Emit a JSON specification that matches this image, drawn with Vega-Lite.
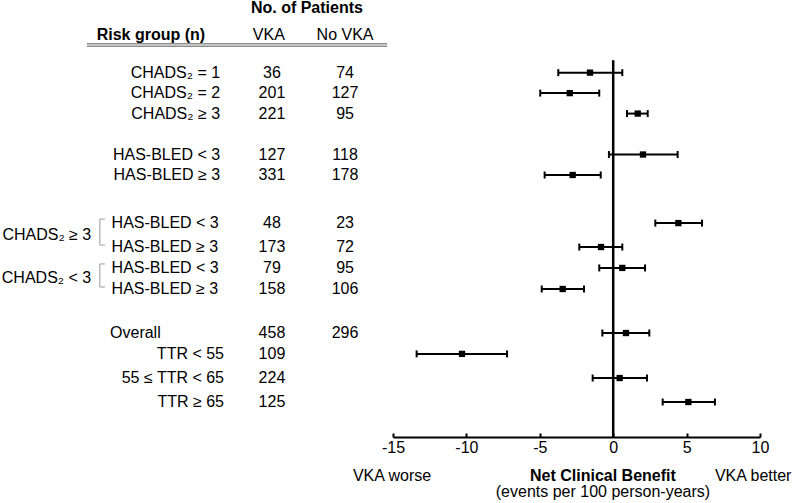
{
  "$schema": "https://vega.github.io/schema/vega-lite/v6.json",
  "background": "white",
  "padding": 0,
  "spacing": 0,
  "bounds": "flush",
  "config": {
    "view": {"stroke": null},
    "font": "Liberation Sans",
    "text": {"fontSize": 16, "color": "black", "baseline": "middle", "font": "Liberation Sans"},
    "concat": {"spacing": 0}
  },
  "datasets": {
    "rows": [
      {"row": 1, "label": "CHADS₂ = 1", "section": "chads", "group": "", "vka": "36", "novka": "74", "est": -1.58, "lo": -3.74, "hi": 0.62},
      {"row": 2, "label": "CHADS₂ = 2", "section": "chads", "group": "", "vka": "201", "novka": "127", "est": -2.96, "lo": -4.97, "hi": -0.95},
      {"row": 3, "label": "CHADS₂ ≥ 3", "section": "chads", "group": "", "vka": "221", "novka": "95", "est": 1.67, "lo": 0.94, "hi": 2.35},
      {"row": 5, "label": "HAS-BLED < 3", "section": "hasbled", "group": "", "vka": "127", "novka": "118", "est": 2.03, "lo": -0.29, "hi": 4.39},
      {"row": 6, "label": "HAS-BLED ≥ 3", "section": "hasbled", "group": "", "vka": "331", "novka": "178", "est": -2.76, "lo": -4.67, "hi": -0.85},
      {"row": 8.35, "label": "HAS-BLED < 3", "section": "combo", "group": "CHADS₂ ≥ 3", "vka": "48", "novka": "23", "est": 4.44, "lo": 2.87, "hi": 6.05},
      {"row": 9.52, "label": "HAS-BLED ≥ 3", "section": "combo", "group": "CHADS₂ ≥ 3", "vka": "173", "novka": "72", "est": -0.83, "lo": -2.31, "hi": 0.62},
      {"row": 10.54, "label": "HAS-BLED < 3", "section": "combo", "group": "CHADS₂ < 3", "vka": "79", "novka": "95", "est": 0.62, "lo": -0.95, "hi": 2.17},
      {"row": 11.57, "label": "HAS-BLED ≥ 3", "section": "combo", "group": "CHADS₂ < 3", "vka": "158", "novka": "106", "est": -3.44, "lo": -4.87, "hi": -1.99},
      {"row": 13.72, "label": "Overall", "section": "overall", "group": "", "vka": "458", "novka": "296", "est": 0.87, "lo": -0.74, "hi": 2.46},
      {"row": 14.74, "label": "TTR < 55", "section": "ttr", "group": "", "vka": "109", "novka": "", "est": -10.3, "lo": -13.39, "hi": -7.23},
      {"row": 15.92, "label": "55 ≤ TTR < 65", "section": "ttr", "group": "", "vka": "224", "novka": "", "est": 0.44, "lo": -1.4, "hi": 2.3},
      {"row": 17.09, "label": "TTR ≥ 65", "section": "ttr", "group": "", "vka": "125", "novka": "", "est": 5.12, "lo": 3.37, "hi": 6.93}
    ]
  },
  "hconcat": [
    {
      "width": 393,
      "height": 436,
      "data": {"name": "rows"},
      "layer": [
        {
          "data": {"values": [{"t": "No. of Patients"}]},
          "mark": {"type": "text", "fontWeight": "bold", "align": "center"},
          "encoding": {
            "x": {"datum": 78.1, "type": "quantitative", "scale": {"domain": [0, 100], "nice": false, "zero": false}, "axis": null},
            "y": {"datum": -2.14, "type": "quantitative", "scale": {"domain": [-2.5, 18.8], "reverse": true, "nice": false, "zero": false}, "axis": null},
            "text": {"field": "t"}
          }
        },
        {
          "data": {"values": [{"t": "Risk group (n)"}]},
          "mark": {"type": "text", "fontWeight": "bold", "align": "center"},
          "encoding": {
            "x": {"datum": 38.4, "type": "quantitative"},
            "y": {"datum": -0.84, "type": "quantitative"},
            "text": {"field": "t"}
          }
        },
        {
          "data": {"values": [{"t": "VKA"}]},
          "mark": {"type": "text", "align": "center"},
          "encoding": {
            "x": {"datum": 68.4, "type": "quantitative"},
            "y": {"datum": -0.84, "type": "quantitative"},
            "text": {"field": "t"}
          }
        },
        {
          "data": {"values": [{"t": "No VKA"}]},
          "mark": {"type": "text", "align": "center"},
          "encoding": {
            "x": {"datum": 87.8, "type": "quantitative"},
            "y": {"datum": -0.84, "type": "quantitative"},
            "text": {"field": "t"}
          }
        },
        {
          "data": {"values": [{}]},
          "mark": {"type": "rule", "color": "#8c8c8c", "strokeWidth": 1.5},
          "encoding": {
            "x": {"datum": 22.1, "type": "quantitative"},
            "x2": {"datum": 98.5},
            "y": {"datum": -0.414, "type": "quantitative"}
          }
        },
        {
          "data": {"values": [{}]},
          "mark": {"type": "rule", "color": "#8c8c8c", "strokeWidth": 1.5},
          "encoding": {
            "x": {"datum": 22.1, "type": "quantitative"},
            "x2": {"datum": 98.5},
            "y": {"datum": -0.292, "type": "quantitative"}
          }
        },
        {
          "transform": [{"filter": "datum.section === 'chads' || datum.section === 'hasbled'"}],
          "mark": {"type": "text", "align": "right"},
          "encoding": {
            "x": {"datum": 56, "type": "quantitative"},
            "y": {"field": "row", "type": "quantitative"},
            "text": {"field": "label"}
          }
        },
        {
          "transform": [{"filter": "datum.section === 'combo'"}],
          "mark": {"type": "text", "align": "left"},
          "encoding": {
            "x": {"datum": 28.4, "type": "quantitative"},
            "y": {"field": "row", "type": "quantitative"},
            "text": {"field": "label"}
          }
        },
        {
          "transform": [{"filter": "datum.section === 'overall'"}],
          "mark": {"type": "text", "align": "left"},
          "encoding": {
            "x": {"datum": 28, "type": "quantitative"},
            "y": {"field": "row", "type": "quantitative"},
            "text": {"field": "label"}
          }
        },
        {
          "transform": [{"filter": "datum.section === 'ttr'"}],
          "mark": {"type": "text", "align": "right"},
          "encoding": {
            "x": {"datum": 57, "type": "quantitative"},
            "y": {"field": "row", "type": "quantitative"},
            "text": {"field": "label"}
          }
        },
        {
          "mark": {"type": "text", "align": "center"},
          "encoding": {
            "x": {"datum": 69.2, "type": "quantitative"},
            "y": {"field": "row", "type": "quantitative"},
            "text": {"field": "vka"}
          }
        },
        {
          "mark": {"type": "text", "align": "center"},
          "encoding": {
            "x": {"datum": 87.8, "type": "quantitative"},
            "y": {"field": "row", "type": "quantitative"},
            "text": {"field": "novka"}
          }
        },
        {
          "transform": [
            {"filter": "datum.section === 'combo'"},
            {"aggregate": [{"op": "mean", "field": "row", "as": "mid"}], "groupby": ["group"]}
          ],
          "mark": {"type": "text", "align": "right"},
          "encoding": {
            "x": {"datum": 23.2, "type": "quantitative"},
            "y": {"field": "mid", "type": "quantitative"},
            "text": {"field": "group"}
          }
        },
        {
          "transform": [
            {"filter": "datum.section === 'combo'"},
            {"aggregate": [{"op": "min", "field": "row", "as": "top"}, {"op": "max", "field": "row", "as": "bot"}], "groupby": ["group"]}
          ],
          "mark": {"type": "rule", "color": "#9a9a9a", "strokeWidth": 1, "yOffset": -4, "y2Offset": -2},
          "encoding": {
            "x": {"datum": 25.4, "type": "quantitative"},
            "y": {"field": "top", "type": "quantitative"},
            "y2": {"field": "bot"}
          }
        },
        {
          "transform": [
            {"filter": "datum.section === 'combo'"},
            {"aggregate": [{"op": "min", "field": "row", "as": "top"}], "groupby": ["group"]}
          ],
          "mark": {"type": "rule", "color": "#9a9a9a", "strokeWidth": 1, "yOffset": -4},
          "encoding": {
            "x": {"datum": 25.4, "type": "quantitative"},
            "x2": {"datum": 26.7},
            "y": {"field": "top", "type": "quantitative"}
          }
        },
        {
          "transform": [
            {"filter": "datum.section === 'combo'"},
            {"aggregate": [{"op": "max", "field": "row", "as": "bot"}], "groupby": ["group"]}
          ],
          "mark": {"type": "rule", "color": "#9a9a9a", "strokeWidth": 1, "yOffset": -2},
          "encoding": {
            "x": {"datum": 25.4, "type": "quantitative"},
            "x2": {"datum": 26.7},
            "y": {"field": "bot", "type": "quantitative"}
          }
        }
      ]
    },
    {
      "width": 367,
      "height": 436,
      "data": {"name": "rows"},
      "layer": [
        {
          "data": {"values": [{}]},
          "mark": {"type": "rule", "color": "black", "strokeWidth": 2.5},
          "encoding": {
            "x": {
              "datum": 0,
              "type": "quantitative",
              "scale": {"domain": [-15, 10], "nice": false, "zero": false},
              "axis": {
                "values": [-15, -10, -5, 0, 5, 10],
                "labelExpr": "'' + datum.value",
                "title": null,
                "grid": false,
                "domainColor": "black",
                "domainWidth": 2,
                "tickColor": "black",
                "tickWidth": 2,
                "tickSize": -4,
                "labelFontSize": 16,
                "labelColor": "black",
                "labelFont": "Liberation Sans",
                "labelPadding": 6,
                "labelFlush": false
              }
            },
            "y": {"datum": 0.4, "type": "quantitative", "scale": {"domain": [-2.5, 18.8], "reverse": true, "nice": false, "zero": false}, "axis": null},
            "y2": {"datum": 18.8}
          }
        },
        {
          "mark": {"type": "rule", "color": "black", "strokeWidth": 2},
          "encoding": {
            "x": {"field": "lo", "type": "quantitative"},
            "x2": {"field": "hi"},
            "y": {"field": "row", "type": "quantitative"}
          }
        },
        {
          "mark": {"type": "tick", "orient": "vertical", "color": "black", "size": 7, "thickness": 2, "opacity": 1},
          "encoding": {
            "x": {"field": "lo", "type": "quantitative"},
            "y": {"field": "row", "type": "quantitative"}
          }
        },
        {
          "mark": {"type": "tick", "orient": "vertical", "color": "black", "size": 7, "thickness": 2, "opacity": 1},
          "encoding": {
            "x": {"field": "hi", "type": "quantitative"},
            "y": {"field": "row", "type": "quantitative"}
          }
        },
        {
          "mark": {"type": "square", "color": "black", "filled": true, "opacity": 1, "size": 40},
          "encoding": {
            "x": {"field": "est", "type": "quantitative"},
            "y": {"field": "row", "type": "quantitative"}
          }
        },
        {
          "data": {"values": [{"t": "VKA worse"}]},
          "mark": {"type": "text", "align": "right"},
          "encoding": {
            "x": {"datum": -12.4, "type": "quantitative"},
            "y": {"datum": 20.7, "type": "quantitative"},
            "text": {"field": "t"}
          }
        },
        {
          "data": {"values": [{"t": "Net Clinical Benefit"}]},
          "mark": {"type": "text", "align": "center", "fontWeight": "bold"},
          "encoding": {
            "x": {"datum": -0.7, "type": "quantitative"},
            "y": {"datum": 20.7, "type": "quantitative"},
            "text": {"field": "t"}
          }
        },
        {
          "data": {"values": [{"t": "(events per 100 person-years)"}]},
          "mark": {"type": "text", "align": "center"},
          "encoding": {
            "x": {"datum": -0.7, "type": "quantitative"},
            "y": {"datum": 21.5, "type": "quantitative"},
            "text": {"field": "t"}
          }
        },
        {
          "data": {"values": [{"t": "VKA better"}]},
          "mark": {"type": "text", "align": "left"},
          "encoding": {
            "x": {"datum": 6.93, "type": "quantitative"},
            "y": {"datum": 20.7, "type": "quantitative"},
            "text": {"field": "t"}
          }
        }
      ]
    }
  ]
}
